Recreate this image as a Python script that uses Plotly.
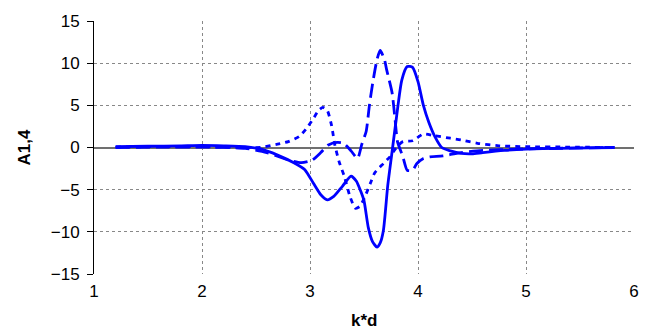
import plotly.graph_objects as go

# k*d sample points and A1,4 values for each series
k_solid = [1.2, 1.5, 1.8, 2.0, 2.2, 2.4, 2.55, 2.7, 2.85, 2.95, 3.03, 3.1, 3.16, 3.22, 3.3,
           3.38, 3.43, 3.47, 3.5, 3.54, 3.58, 3.62, 3.65, 3.68, 3.72, 3.76, 3.8, 3.85, 3.9,
           3.95, 4.0, 4.05, 4.1, 4.16, 4.22, 4.3, 4.4, 4.5, 4.6, 4.8, 5.0, 5.3, 5.6, 5.82]
a_solid = [0.1, 0.15, 0.2, 0.25, 0.2, 0.1, -0.2, -0.9, -1.8, -2.6, -4.2, -5.6, -6.2, -5.8, -4.6,
           -3.4, -4.0, -5.2, -6.3, -9.5, -11.2, -11.8, -11.3, -9.8, -4.5, -0.5, 3.5, 8.0, 9.6,
           9.5, 7.8, 5.0, 3.0, 1.2, 0.0, -0.4, -0.7, -0.75, -0.6, -0.35, -0.2, -0.1, -0.05, 0.0]

k_long = [1.2, 1.6, 2.0, 2.4, 2.6, 2.8, 2.92, 3.02, 3.1, 3.17, 3.25, 3.31, 3.38, 3.44, 3.48,
          3.52, 3.55, 3.58, 3.62, 3.65, 3.69, 3.71, 3.76, 3.79, 3.81, 3.86, 3.9, 3.95, 3.99,
          4.05, 4.11, 4.23, 4.4, 4.6, 4.9, 5.3, 5.82]
a_long = [0.0, 0.05, 0.05, -0.1, -0.6, -1.5, -1.8, -1.5, -0.6, 0.3, 0.6, 0.5, -0.4, -1.3, 0.4,
          1.9, 5.0, 7.6, 10.4, 11.5, 10.4, 9.2, 6.5, 3.0, 0.7, -1.1, -2.7, -2.7, -1.9,
          -1.3, -1.1, -1.0, -0.6, -0.35, -0.2, -0.1, 0.0]

k_short = [1.2, 1.6, 2.0, 2.3, 2.54, 2.7, 2.8, 2.9, 2.97, 3.03, 3.08, 3.12, 3.16, 3.2, 3.23,
           3.27, 3.32, 3.37, 3.42, 3.46, 3.51, 3.56, 3.6, 3.68, 3.74, 3.8, 3.86, 3.95, 4.05,
           4.15, 4.3, 4.4, 4.55, 4.75, 5.0, 5.4, 5.82]
a_short = [0.05, 0.1, 0.1, 0.05, 0.0, 0.4, 0.7, 1.3, 2.3, 3.4, 4.4, 4.75, 4.4, 2.6, 0.3,
           -1.7, -3.5, -5.8, -7.2, -7.0, -5.8, -4.2, -3.0, -1.9, -1.1, 0.0, 0.7, 0.8, 1.6,
           1.4, 1.1, 0.9, 0.5, 0.2, 0.1, 0.05, 0.0]

x_ticks = [1, 2, 3, 4, 5, 6]
y_ticks = [-15, -10, -5, 0, 5, 10, 15]

blue = "#0000FF"
fig = go.Figure()
fig.add_trace(go.Scatter(x=k_long, y=a_long, mode="lines",
                         line=dict(color=blue, width=2.8, dash="14px,6px", shape="spline", smoothing=0.6)))
fig.add_trace(go.Scatter(x=k_short, y=a_short, mode="lines",
                         line=dict(color=blue, width=2.8, dash="5px,5px", shape="spline", smoothing=0.6)))
fig.add_trace(go.Scatter(x=k_solid, y=a_solid, mode="lines",
                         line=dict(color=blue, width=2.8, shape="spline", smoothing=0.6)))

font = "Liberation Sans, Arial, sans-serif"
plot_l, plot_r, plot_t, plot_b = 94, 634, 13, 274
fig.update_layout(
    width=654, height=334,
    margin=dict(l=plot_l, r=654 - plot_r, t=plot_t, b=334 - plot_b),
    paper_bgcolor="white", plot_bgcolor="white",
    showlegend=False,
    font=dict(family=font, size=17, color="black"),
    xaxis=dict(range=[1, 6], tickvals=x_ticks, showgrid=True, gridcolor="#888888",
               griddash="3px,3px", gridwidth=1, zeroline=False, showline=False,
               ticks="", ticklabelstandoff=5, fixedrange=True),
    yaxis=dict(range=[-15, 15], tickvals=y_ticks, showgrid=True, gridcolor="#888888",
               griddash="3px,3px", gridwidth=1, zeroline=True, zerolinecolor="#707070",
               zerolinewidth=2, showline=True, linecolor="black", linewidth=1,
               ticks="outside", ticklen=6, tickcolor="black", ticklabelstandoff=4,
               fixedrange=True),
    annotations=[
        # axis titles positioned in pixels relative to the plot area
        dict(text="<b>k*d</b>", x=0.5, xref="paper", xanchor="center",
             y=-(322 - plot_b) / (plot_b - plot_t), yref="paper", yanchor="middle",
             showarrow=False, font=dict(size=17)),
        dict(text="<b>A1,4</b>", x=-(plot_l - 24) / (plot_r - plot_l), xref="paper",
             xanchor="center", y=0.5, yref="paper", yanchor="middle",
             showarrow=False, textangle=-90, font=dict(size=17)),
    ],
)

fig.write_html("out.html")
